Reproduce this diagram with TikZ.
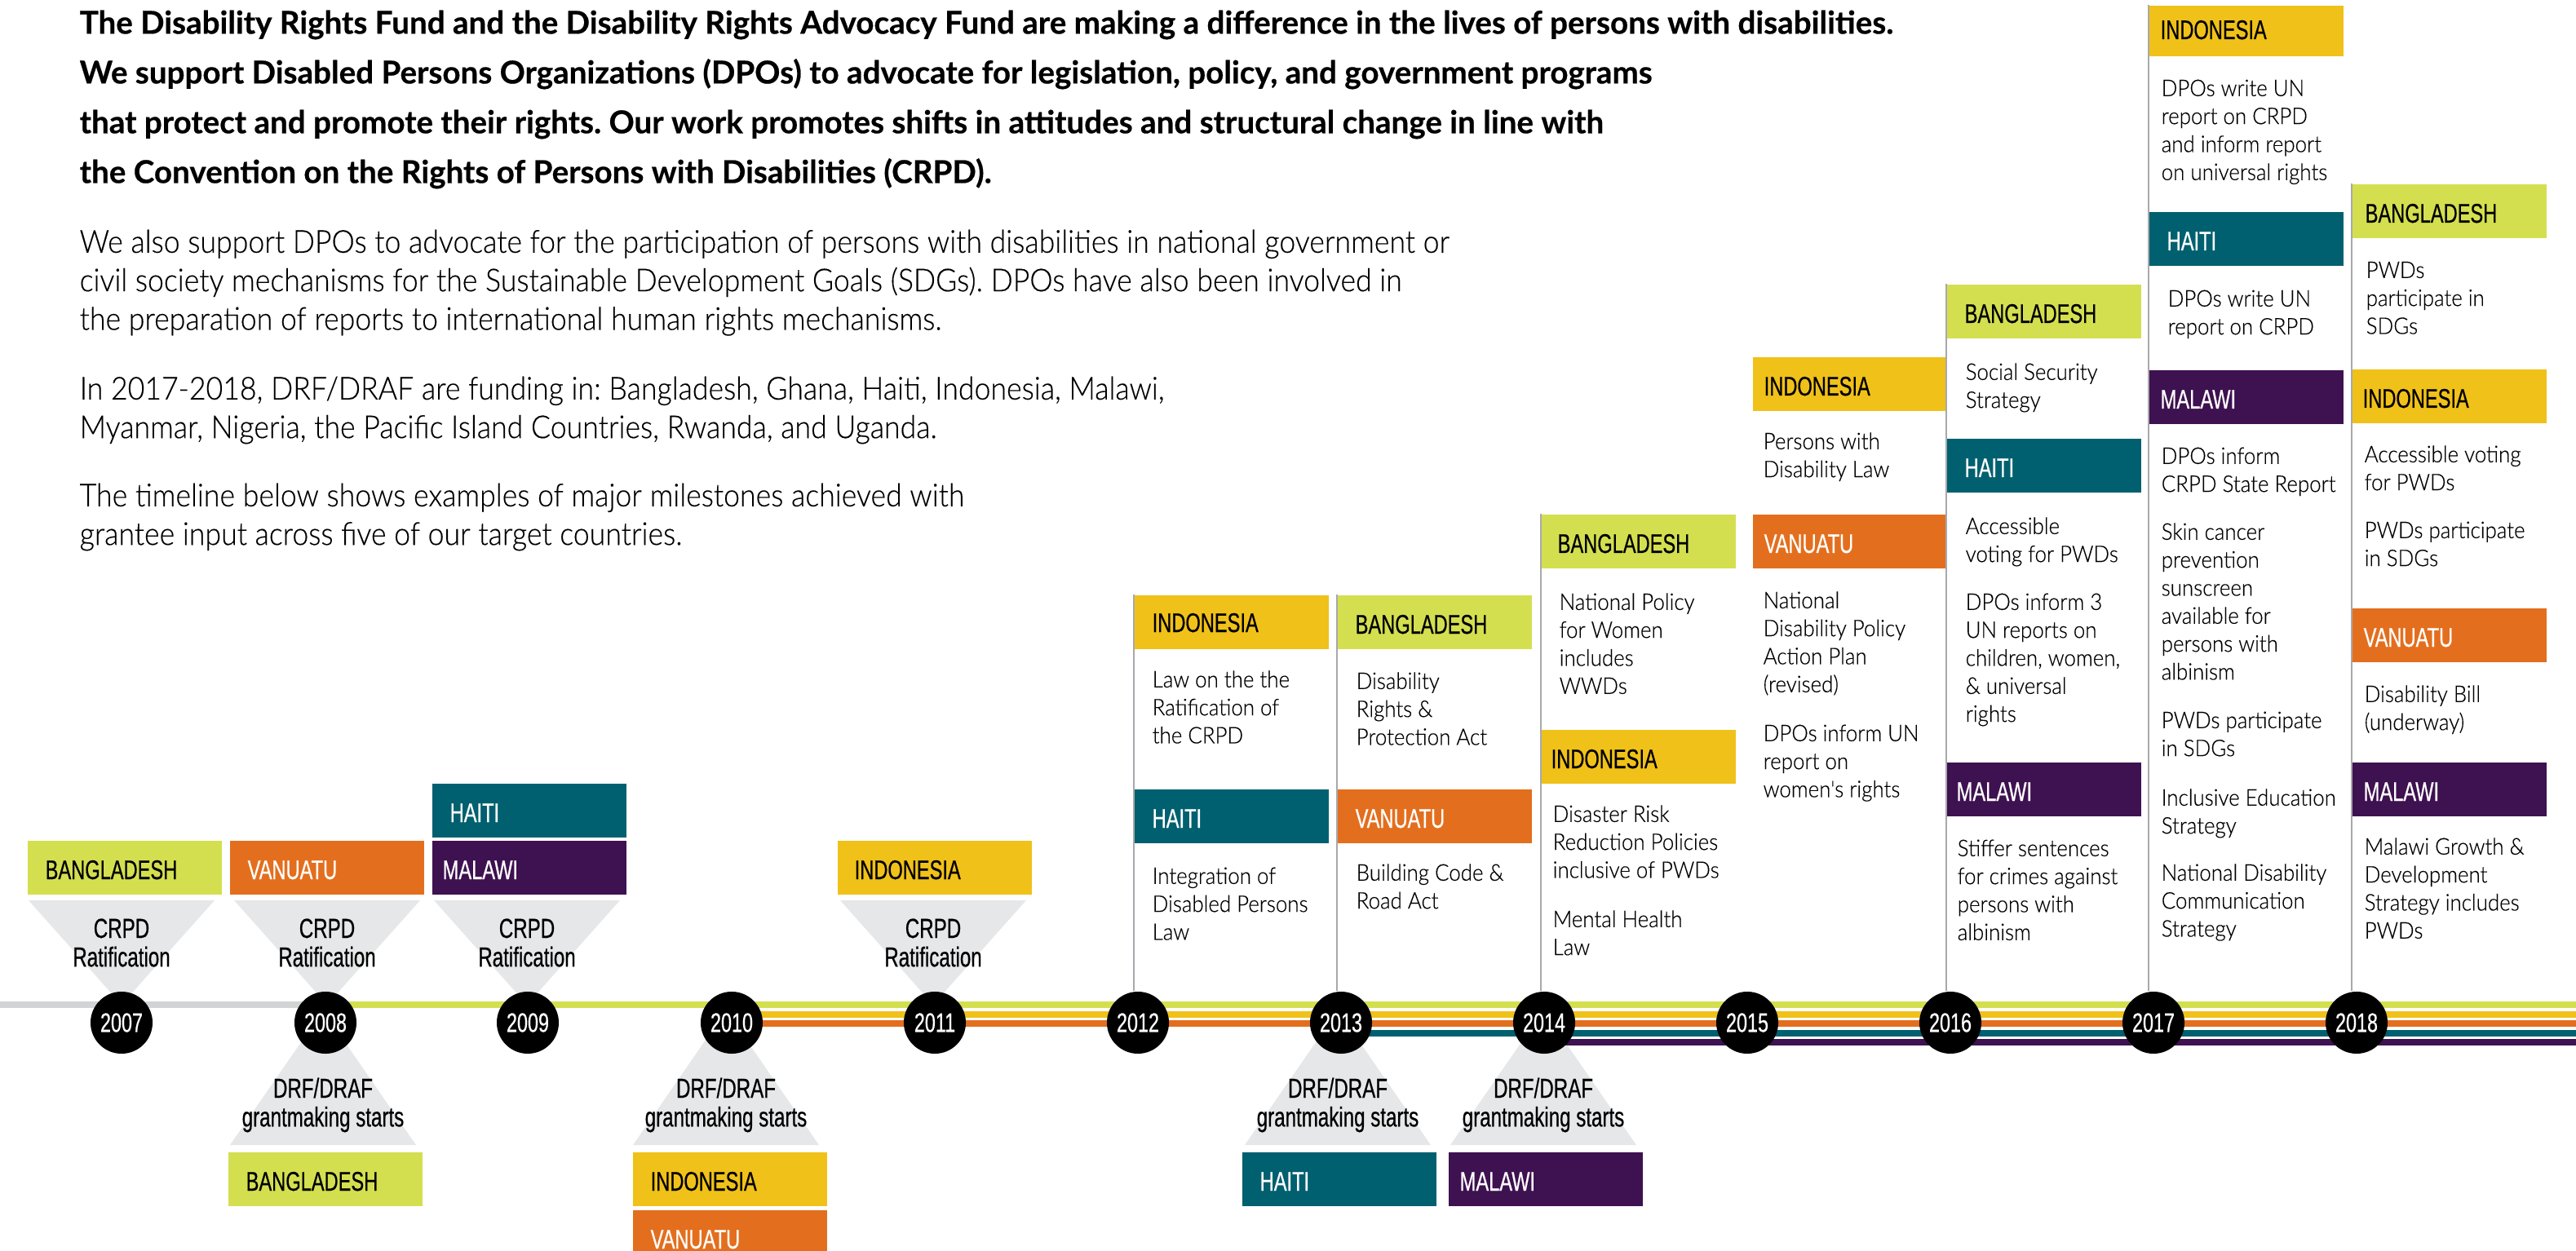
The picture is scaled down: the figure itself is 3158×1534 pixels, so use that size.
\documentclass[tikz,border=0pt]{standalone}
\usepackage{fontspec}
\setmainfont{Lato}
\newfontfamily\condFont[FakeStretch=0.715,FakeBold=0.5]{Liberation Sans}
\newfontfamily\noteFont[FakeStretch=0.92,FakeBold=0.3]{Lato Light}
\newfontfamily\leadFont[BoldFeatures={FakeBold=0.5}]{Lato}
\usetikzlibrary{calc}
\frenchspacing
\definecolor{limeC}{HTML}{D4DF50}
\definecolor{orangeC}{HTML}{E36F1E}
\definecolor{yellowC}{HTML}{F0C119}
\definecolor{tealC}{HTML}{00606F}
\definecolor{purpleC}{HTML}{3E1150}
\definecolor{wedgeC}{HTML}{E6E7E8}
\definecolor{trackC}{HTML}{D1D3D4}
\definecolor{stemC}{HTML}{A7A9AC}
\tikzset{
 tagbox/.style = {anchor=north west, inner sep=0, minimum width=2.38cm},
 bangladesh/.style = {fill=limeC},
 vanuatu/.style = {fill=orangeC},
 indonesia/.style = {fill=yellowC},
 haiti/.style = {fill=tealC},
 malawi/.style = {fill=purpleC},
 yeardot/.style = {circle, fill=black, text=white, inner sep=0, minimum size=0.76cm,
  font=\condFont\fontsize{9.3}{9.3}\selectfont},
 track/.style = {line width=2pt},
 stem/.style = {draw=stemC, line width=0.35pt},
 tritext/.style = {inner sep=0, align=center, font=\condFont\fontsize{9.6}{10}\selectfont},
 notetext/.style = {anchor=north west, inner sep=0, align=left,
  font=\noteFont\fontsize{8}{9.76}\selectfont},
 leadtext/.style = {anchor=north west, inner sep=0, align=left,
  font=\leadFont\fontsize{10.97}{17.35}\selectfont\bfseries},
 introtext/.style = {anchor=north west, inner sep=0, align=left,
  font=\noteFont\fontsize{11.02}{13.45}\selectfont}
}
\pgfkeys{
 /tagBox/.is family, /tagBox,
 pad/.estore in = \tbPad,
 tall/.estore in = \tbTall,
 ink/.estore in = \tbInk,
 drop/.estore in = \tbDrop,
 default/.style = {pad=22, tall=0.66cm, ink=white, drop=48}
}
% name, corner, country style, label
\newcommand{\tagBox}[5][]{
    \pgfkeys{/tagBox, default, #1}%
    \node (#2) [tagbox, #4, minimum height=\tbTall] at (#3) {};
    \node (#2_t) [anchor=base west, inner sep=0, text=\tbInk, font=\condFont\fontsize{9.4}{9.4}\selectfont]
        at ($(#2.north west) + (\tbPad, \tbDrop)$) {#5};
}
\newcommand{\noteText}[3]{
    \node (#1) [notetext] at ($(#2) + (0, -18)$) {\rule{0pt}{8pt}#3};
}
\newcommand{\stemLine}[2]{
    \draw[stem] (#1.north west) -- (#1.north west |- #2.north);
}
\newcommand{\upTri}[2]{
    \fill[wedgeC] (#2, 1104) -- ++(114, 0) -- ++(-114, 128) -- ++(-114, -128) -- cycle;
    \node (#1) [tritext] at (#2, 1156) {CRPD\\Ratification};
}
\newcommand{\downTri}[2]{
    \fill[wedgeC] (#2, 1404) -- ++(114, 0) -- ++(-114, -165) -- ++(-114, 165) -- cycle;
    \node (#1) [tritext] at (#2, 1355) {DRF/DRAF\\grantmaking starts};
}
% track from a start coordinate to the right edge
\newcommand{\trackLine}[4]{
    \coordinate (#1_s) at (#2, #3);
    \coordinate (#1_e) at (3158, #3);
    \draw[track, #4] (#1_s) -- (#1_e);
}

\begin{document}
\begin{tikzpicture}[x=0.01cm, y=-0.01cm]
    \useasboundingbox (0, 0) rectangle (3158, 1534);

    % intro copy
    \node (lead) [leadtext] at (97, 12) {The Disability Rights Fund and the Disability Rights Advocacy Fund are making a difference in the lives of persons with disabilities.\\
        We support Disabled Persons Organizations (DPOs) to advocate for legislation, policy, and government programs\\
        that protect and promote their rights. Our work promotes shifts in attitudes and structural change in line with\\
        the Convention on the Rights of Persons with Disabilities (CRPD).};
    \node (introA) [introtext] at (97, 281) {We also support DPOs to advocate for the participation of persons with disabilities in national government or\\
        civil society mechanisms for the Sustainable Development Goals (SDGs). DPOs have also been involved in\\
        the preparation of reports to international human rights mechanisms.};
    \node (introB) [introtext] at (97, 461) {In 2017-2018, DRF/DRAF are funding in: Bangladesh, Ghana, Haiti, Indonesia, Malawi,\\
        Myanmar, Nigeria, the Pacific Island Countries, Rwanda, and Uganda.};
    \node (introC) [introtext] at (97, 592) {The timeline below shows examples of major milestones achieved with\\
        grantee input across five of our target countries.};

    % triangles, apex goes under the dots
    \upTri{triA}{149}
    \upTri{triB}{401}
    \upTri{triC}{646}
    \upTri{triD}{1144}
    \downTri{triE}{396}
    \downTri{triF}{890}
    \downTri{triG}{1640}
    \downTri{triH}{1892}

    % tracks
    \coordinate (grayStart) at (0, 1232);
    \trackLine{lime}{399}{1232}{limeC}
    \draw[track, trackC] (grayStart) -- (lime_s);
    \trackLine{yellow}{897}{1244}{yellowC}
    \trackLine{orange}{897}{1255}{orangeC}
    \trackLine{teal}{1644}{1267}{tealC}
    \trackLine{purple}{1893}{1278}{purpleC}

    % year dots
    \node (y2007) [yeardot] at (149, 1254) {2007};
    \node (y2008) [yeardot] at (399, 1254) {2008};
    \node (y2009) [yeardot] at (647, 1254) {2009};
    \node (y2010) [yeardot] at (897, 1254) {2010};
    \node (y2011) [yeardot] at (1146, 1254) {2011};
    \node (y2012) [yeardot] at (1395, 1254) {2012};
    \node (y2013) [yeardot] at (1644, 1254) {2013};
    \node (y2014) [yeardot] at (1893, 1254) {2014};
    \node (y2015) [yeardot] at (2142, 1254) {2015};
    \node (y2016) [yeardot] at (2391, 1254) {2016};
    \node (y2017) [yeardot] at (2640, 1254) {2017};
    \node (y2018) [yeardot] at (2889, 1254) {2018};

    % country tags, lower and left part
    \tagBox[ink=black]{tag07}{33, 1030}{bangladesh}{BANGLADESH}
    \tagBox{tag08}{281, 1030}{vanuatu}{VANUATU}
    \tagBox{tag09a}{529, 960}{haiti}{HAITI}
    \tagBox[pad=13]{tag09b}{529, 1030}{malawi}{MALAWI}
    \tagBox[pad=21, ink=black]{tag11}{1026, 1030}{indonesia}{INDONESIA}
    \tagBox[ink=black]{tagL08}{279, 1412}{bangladesh}{BANGLADESH}
    \tagBox[ink=black]{tagL10a}{775, 1412}{indonesia}{INDONESIA}
    \tagBox[tall=0.51cm]{tagL10b}{775, 1483}{vanuatu}{VANUATU}
    \tagBox{tagL13}{1522, 1412}{haiti}{HAITI}
    \tagBox[pad=14]{tagL14}{1775, 1412}{malawi}{MALAWI}

    % columns above the line
    \tagBox[ink=black, drop=46]{t12a}{1390, 729}{indonesia}{INDONESIA}
    \noteText{n12a}{1412, 832}{Law on the the\\Ratification of\\the CRPD}
    \tagBox{t12b}{1390, 967}{haiti}{HAITI}
    \noteText{n12b}{1412, 1073}{Integration of\\Disabled Persons\\Law}

    \tagBox[ink=black]{t13a}{1639, 729}{bangladesh}{BANGLADESH}
    \noteText{n13a}{1662, 834}{Disability\\Rights \&\\Protection Act}
    \tagBox{t13b}{1639, 967}{vanuatu}{VANUATU}
    \noteText{n13b}{1662, 1069}{Building Code \&\\Road Act}

    \tagBox[pad=20, ink=black]{t14a}{1889, 630}{bangladesh}{BANGLADESH}
    \noteText{n14a}{1911, 737}{National Policy\\for Women\\includes\\WWDs}
    \tagBox[pad=12, ink=black]{t14b}{1889, 894}{indonesia}{INDONESIA}
    \noteText{n14b}{1903, 997}{Disaster Risk\\Reduction Policies\\inclusive of PWDs}
    \noteText{n14c}{1903, 1126}{Mental Health\\Law}

    \tagBox[pad=14, ink=black]{t15a}{2148, 437}{indonesia}{INDONESIA}
    \noteText{n15a}{2161, 540}{Persons with\\Disability Law}
    \tagBox[pad=14]{t15b}{2148, 630}{vanuatu}{VANUATU}
    \noteText{n15b}{2161, 735}{National\\Disability Policy\\Action Plan\\(revised)}
    \noteText{n15c}{2161, 898}{DPOs inform UN\\report on\\women's rights}

    \tagBox[ink=black]{t16a}{2386, 348}{bangladesh}{BANGLADESH}
    \noteText{n16a}{2409, 455}{Social Security\\Strategy}
    \tagBox{t16b}{2386, 537}{haiti}{HAITI}
    \noteText{n16b}{2409, 644}{Accessible\\voting for PWDs}
    \noteText{n16c}{2409, 737}{DPOs inform 3\\UN reports on\\children, women,\\\& universal\\rights}
    \tagBox[pad=12]{t16d}{2386, 934}{malawi}{MALAWI}
    \noteText{n16d}{2399, 1039}{Stiffer sentences\\for crimes against\\persons with\\albinism}

    \tagBox[pad=14, ink=black, tall=0.62cm, drop=42]{t17a}{2634, 6}{indonesia}{INDONESIA}
    \noteText{n17a}{2649, 107}{DPOs write UN\\report on CRPD\\and inform report\\on universal rights}
    \tagBox{t17b}{2634, 259}{haiti}{HAITI}
    \noteText{n17b}{2657, 365}{DPOs write UN\\report on CRPD}
    \tagBox[pad=14]{t17c}{2634, 453}{malawi}{MALAWI}
    \noteText{n17c}{2649, 558}{DPOs inform\\CRPD State Report}
    \noteText{n17d}{2649, 651}{Skin cancer\\prevention\\sunscreen\\available for\\persons with\\albinism}
    \noteText{n17e}{2649, 882}{PWDs participate\\in SDGs}
    \noteText{n17f}{2649, 977}{Inclusive Education\\Strategy}
    \noteText{n17g}{2649, 1069}{National Disability\\Communication\\Strategy}

    \tagBox[pad=16, ink=black]{t18a}{2883, 225}{bangladesh}{BANGLADESH}
    \noteText{n18a}{2900, 330}{PWDs\\participate in\\SDGs}
    \tagBox[pad=13, ink=black]{t18b}{2883, 452}{indonesia}{INDONESIA}
    \noteText{n18b}{2898, 556}{Accessible voting\\for PWDs}
    \noteText{n18c}{2898, 649}{PWDs participate\\in SDGs}
    \tagBox[pad=14]{t18d}{2883, 745}{vanuatu}{VANUATU}
    \noteText{n18d}{2898, 850}{Disability Bill\\(underway)}
    \tagBox[pad=14]{t18e}{2883, 934}{malawi}{MALAWI}
    \noteText{n18e}{2898, 1037}{Malawi Growth \&\\Development\\Strategy includes\\PWDs}

    \stemLine{t12a}{y2012}
    \stemLine{t13a}{y2013}
    \stemLine{t14a}{y2014}
    \stemLine{t16a}{y2016}
    \stemLine{t17a}{y2017}
    \stemLine{t18a}{y2018}
\end{tikzpicture}
\end{document}
